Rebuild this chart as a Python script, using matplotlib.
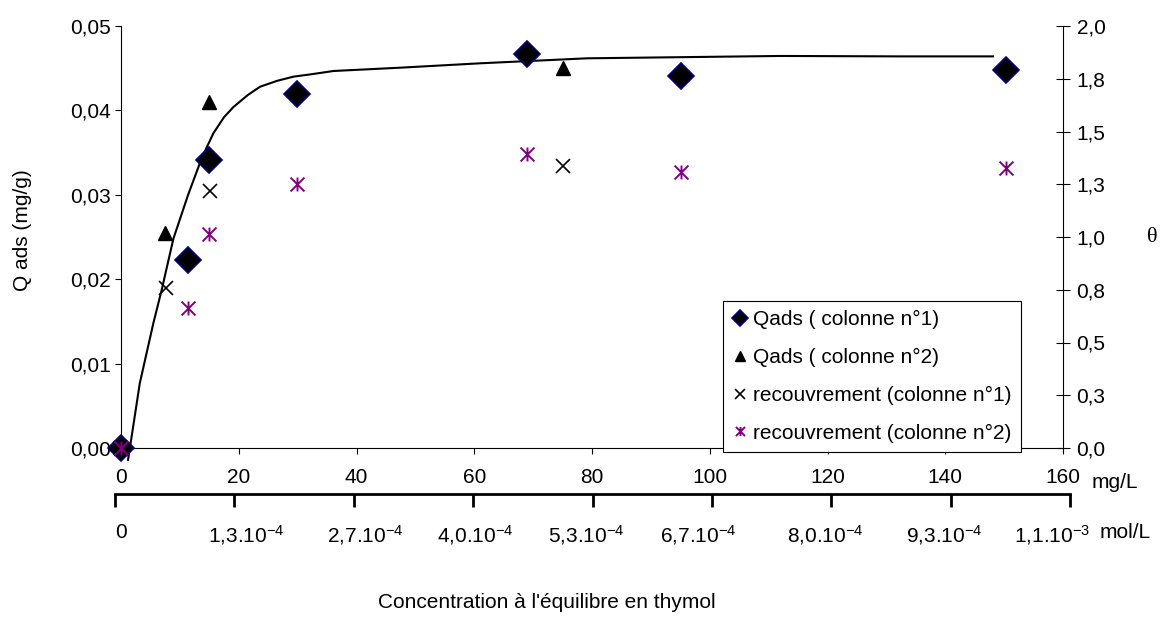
import numpy as np
import matplotlib
matplotlib.use('Agg')
import matplotlib.pyplot as plt
import matplotlib.transforms as mtransforms
from matplotlib.path import Path

plt.rcParams['font.family'] = ['Liberation Sans', 'DejaVu Sans']
plt.rcParams['mathtext.fontset'] = 'custom'
plt.rcParams['mathtext.rm'] = 'Liberation Sans'
plt.rcParams['mathtext.default'] = 'regular'

FS = 15

# Qads colonne 1 (diamonds), left axis
x_col1 = [0, 11.3, 15.0, 29.9, 69.0, 95.2, 150.3]
q_col1 = [0.0, 0.0223, 0.0341, 0.0419, 0.0467, 0.0441, 0.0448]

# Qads colonne 2 (triangles), left axis
x_col2 = [0, 7.5, 15.0, 75.1]
q_col2 = [0.0, 0.0255, 0.0410, 0.0450]

# recouvrement colonne 1 (x), right axis
x_rec1 = [0, 7.6, 15.1, 75.1]
theta_rec1 = [0.0, 0.76, 1.22, 1.336]

# recouvrement colonne 2 (asterisk), right axis
x_rec2 = [0, 11.3, 15.0, 29.95, 69.0, 95.2, 150.3]
theta_rec2 = [0.0, 0.662, 1.014, 1.25, 1.393, 1.307, 1.326]

# fitted curve
fit_x = [1.2, 3.2, 5.5, 6.9, 8.9, 11.4, 13.8, 15.7, 17.5, 19.1, 21.5, 23.6,
         26.5, 29.3, 32.5, 36.1, 47.4, 61.0, 79.1, 112.0, 132.3, 148.1]
fit_q = [-0.0014, 0.0077, 0.0148, 0.0187, 0.0248, 0.0300, 0.0345, 0.0373,
         0.0392, 0.0404, 0.0418, 0.0428, 0.0435, 0.0440, 0.0443, 0.04467,
         0.04506, 0.04558, 0.04617, 0.04645, 0.04640, 0.04640]

x_ticks = [0, 20, 40, 60, 80, 100, 120, 140, 160]
q_ticks = [0.0, 0.01, 0.02, 0.03, 0.04, 0.05]
q_labels = ['0,00', '0,01', '0,02', '0,03', '0,04', '0,05']
theta_ticks = [0.0, 0.25, 0.5, 0.75, 1.0, 1.25, 1.5, 1.75, 2.0]
theta_labels = ['0,0', '0,3', '0,5', '0,8', '1,0', '1,3', '1,5', '1,8', '2,0']
mol_labels = ['0', '1,3.10$^{-4}$', '2,7.10$^{-4}$', '4,0.10$^{-4}$',
              '5,3.10$^{-4}$', '6,7.10$^{-4}$', '8,0.10$^{-4}$',
              '9,3.10$^{-4}$', '1,1.10$^{-3}$']

legend_labels = ['Qads ( colonne n°1)', 'Qads ( colonne n°2)',
                 'recouvrement (colonne n°1)', 'recouvrement (colonne n°2)']

# asterisk: vertical bar + X
star = Path([(0, -1), (0, 1), (-1, -1), (1, 1), (-1, 1), (1, -1)],
            [Path.MOVETO, Path.LINETO, Path.MOVETO, Path.LINETO,
             Path.MOVETO, Path.LINETO])

W, H = 1163, 630
fig = plt.figure(figsize=(W / 100, H / 100), dpi=100)
ax = fig.add_axes([121 / W, 1 - 448 / H, 942 / W, 422 / H])
ax2 = ax.twinx()

ax.plot(fit_x, fit_q, color='black', lw=1.5, clip_on=False, zorder=2)
h1, = ax.plot(x_col1, q_col1, ls='none', marker='D', ms=13, mfc='black',
              mec='#000080', mew=1.2, clip_on=False, zorder=3)
h2, = ax.plot(x_col2, q_col2, ls='none', marker='^', ms=10, color='black',
              clip_on=False, zorder=3)
h3, = ax2.plot(x_rec1, theta_rec1, ls='none', marker='x', ms=10, mew=1.2,
               color='black', clip_on=False)
h4, = ax2.plot(x_rec2, theta_rec2, ls='none', marker=star, ms=10, mew=1.4,
               color='#800080', mfc='none', clip_on=False)

ax.set_xlim(0, 160)
ax.set_ylim(0, 0.05)
ax2.set_ylim(0, 2)

ax.set_xticks(x_ticks)
ax.set_xticklabels([str(v) for v in x_ticks])
ax.set_yticks(q_ticks)
ax.set_yticklabels(q_labels)
ax2.set_yticks(theta_ticks)
ax2.set_yticklabels(theta_labels)

for a in (ax, ax2):
    a.spines['top'].set_visible(False)
    for s in a.spines.values():
        s.set_linewidth(0.8)
ax.spines['right'].set_visible(False)
ax2.spines['left'].set_visible(False)
ax2.spines['bottom'].set_visible(False)

ax.tick_params(axis='x', direction='out', length=4.5, width=0.8, pad=10,
               labelsize=FS)
ax.tick_params(axis='y', direction='out', length=4.5, width=0.8, pad=3,
               labelsize=FS)
ax2.tick_params(axis='y', direction='inout', length=9.5, width=0.8, pad=5,
                labelsize=FS)

leg = ax2.legend([h1, h2, h3, h4], legend_labels, loc='lower left',
                 bbox_to_anchor=(723 / W, 1 - 452 / H),
                 bbox_transform=fig.transFigure, fancybox=False,
                 edgecolor='black', framealpha=1, fontsize=FS,
                 markerscale=0.65, handlelength=0.7, handletextpad=0.3,
                 labelspacing=0.9, borderpad=0.45, borderaxespad=0)
leg.get_frame().set_linewidth(0.8)
leg.set_zorder(10)

# second x axis in mol/L
ax3 = fig.add_axes([115 / W, 1 - 494 / H, 955 / W, 0.0001])
ax3.patch.set_visible(False)
for k in ('top', 'left', 'right'):
    ax3.spines[k].set_visible(False)
ax3.spines['bottom'].set_linewidth(2)
ax3.set_xlim(0, 8)
ax3.set_xticks(range(9))
ax3.set_xticklabels(mol_labels)
ax3.set_yticks([])
ax3.tick_params(axis='x', direction='out', length=9, width=2, pad=12,
                labelsize=FS)

# Excel puts these labels a little off their ticks
shifts = [6, 12, 12, 2, -6, -14, -6, -6, -18]
for lab, dx in zip(ax3.get_xticklabels(), shifts):
    off = mtransforms.ScaledTranslation(dx / 100, 0, fig.dpi_scale_trans)
    lab.set_transform(lab.get_transform() + off)

fig.text(1092 / W, 1 - 483 / H, 'mg/L', ha='left', va='center', fontsize=FS)
fig.text(1100 / W, 1 - 533 / H, 'mol/L', ha='left', va='center', fontsize=FS)
fig.text(547 / W, 1 - 603 / H, "Concentration à l'équilibre en thymol",
         ha='center', va='center', fontsize=FS)
fig.text(23 / W, 1 - 230 / H, 'Q ads (mg/g)', rotation=90, ha='center',
         va='center', fontsize=FS)
fig.text(1152 / W, 1 - 238 / H, 'θ', family='Liberation Serif', fontsize=16,
         ha='center', va='center')

fig.savefig('out.png', dpi=100)
